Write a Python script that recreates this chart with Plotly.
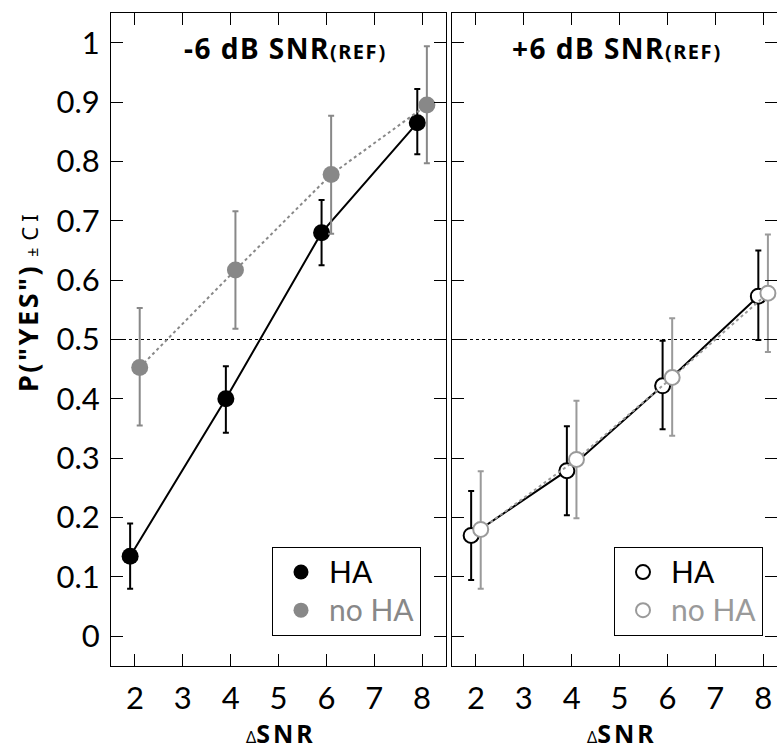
import plotly.graph_objects as go

# ---------------- data ----------------
snr = [2, 4, 6, 8]
x_ticks = [2, 3, 4, 5, 6, 7, 8]
y_ticks = [0, 0.1, 0.2, 0.3, 0.4, 0.5, 0.6, 0.7, 0.8, 0.9, 1]
y_tick_labels = ["0", "0.1", "0.2", "0.3", "0.4", "0.5", "0.6", "0.7", "0.8", "0.9", "1"]

# -6 dB SNR(REF) panel
m6_ha = [0.135, 0.400, 0.680, 0.865]
m6_ha_lo = [0.080, 0.343, 0.625, 0.812]
m6_ha_hi = [0.190, 0.455, 0.735, 0.922]
m6_noha = [0.453, 0.617, 0.778, 0.895]
m6_noha_lo = [0.355, 0.518, 0.678, 0.797]
m6_noha_hi = [0.553, 0.716, 0.877, 0.994]

# +6 dB SNR(REF) panel
p6_ha = [0.170, 0.279, 0.422, 0.573]
p6_ha_lo = [0.095, 0.204, 0.349, 0.499]
p6_ha_hi = [0.245, 0.354, 0.498, 0.650]
p6_noha = [0.180, 0.298, 0.436, 0.578]
p6_noha_lo = [0.080, 0.199, 0.338, 0.479]
p6_noha_hi = [0.278, 0.397, 0.536, 0.677]

ref_line = 0.5
titles = ["-6 dB SNR", "+6 dB SNR"]
series_names = ["HA", "no HA"]

FONT = "Lato"
TFONT = "Noto Sans"
GRAY = "#888888"
GRAY_OPEN = "#9a9a9a"

W, H = 777, 751
ML, MR, MT, MB = 111, 0, 13, 85
PW = W - ML - MR
PH = H - MT - MB


def px_x(p):
    return (p - ML) / PW


def px_y(p):
    return (H - MB - p) / PH


fig = go.Figure()


def err(vals, lo, hi):
    return dict(type="data", symmetric=False,
                array=[h - v for v, h in zip(vals, hi)],
                arrayminus=[v - l for v, l in zip(vals, lo)])


def add_series(xa, ya, vals, lo, hi, offset, color, dash, filled):
    xs = [v + offset for v in snr]
    ey = err(vals, lo, hi)
    ey.update(color=color, thickness=2, width=3)
    if filled:
        marker = dict(size=17, color=color, line=dict(width=0))
    else:
        marker = dict(size=15, color="white", line=dict(width=2, color=color))
    fig.add_trace(go.Scatter(
        x=xs, y=vals, mode="lines+markers", xaxis=xa, yaxis=ya,
        line=dict(color=color, width=2, dash=dash),
        marker=marker, error_y=ey, showlegend=False, hoverinfo="skip"))


# left panel
add_series("x", "y", m6_ha, m6_ha_lo, m6_ha_hi, -0.1, "black", "solid", True)
add_series("x", "y", m6_noha, m6_noha_lo, m6_noha_hi, 0.1, GRAY, "dot", True)
# right panel
add_series("x2", "y2", p6_ha, p6_ha_lo, p6_ha_hi, -0.1, "black", "solid", False)
add_series("x2", "y2", p6_noha, p6_noha_lo, p6_noha_hi, 0.1, GRAY_OPEN, "dot", False)

LEG_TXT = "<span style='font-size:30px'>{}</span>"

# legend-only traces
fig.add_trace(go.Scatter(x=[None], y=[None], mode="markers", xaxis="x", yaxis="y",
                         marker=dict(size=15, color="black"),
                         name=LEG_TXT.format(series_names[0]), legend="legend"))
fig.add_trace(go.Scatter(x=[None], y=[None], mode="markers", xaxis="x", yaxis="y",
                         marker=dict(size=15, color=GRAY),
                         name=f"<span style='color:{GRAY};font-size:30px'>{series_names[1]}</span>",
                         legend="legend"))
fig.add_trace(go.Scatter(x=[None], y=[None], mode="markers", xaxis="x2", yaxis="y2",
                         marker=dict(size=14, color="white", line=dict(width=2, color="black")),
                         name=LEG_TXT.format(series_names[0]), legend="legend2"))
fig.add_trace(go.Scatter(x=[None], y=[None], mode="markers", xaxis="x2", yaxis="y2",
                         marker=dict(size=14, color="white", line=dict(width=2, color=GRAY_OPEN)),
                         name=f"<span style='color:{GRAY_OPEN};font-size:30px'>{series_names[1]}</span>",
                         legend="legend2"))

axis_common = dict(showline=True, linecolor="black", linewidth=1, ticks="inside",
                   ticklen=12, tickwidth=1, tickcolor="black", showgrid=False,
                   zeroline=False, tickfont=dict(family=FONT, size=31, color="black"))

left_dom = [0, px_x(446)]
right_dom = [px_x(452), 1]

leg_common = dict(xanchor="right", yanchor="bottom", bordercolor="black", borderwidth=1,
                  bgcolor="white", font=dict(family=FONT, size=27, color="black"),
                  itemclick=False, itemwidth=46)

fig.update_layout(
    width=W, height=H,
    margin=dict(l=ML, r=MR, t=MT, b=MB),
    paper_bgcolor="white", plot_bgcolor="white",
    font=dict(family=FONT, size=30, color="black"),
    xaxis=dict(domain=left_dom, range=[1.5, 8.5], tickvals=x_ticks, mirror="ticks",
               anchor="y", ticklabelstandoff=5, **axis_common),
    yaxis=dict(domain=[0, 1], range=[-0.05, 1.05], tickvals=y_ticks, ticktext=y_tick_labels,
               mirror="ticks", anchor="x", ticklabelstandoff=4, **axis_common),
    xaxis2=dict(domain=right_dom, range=[1.5, 8.29], tickvals=x_ticks, mirror="ticks",
                anchor="y2", ticklabelstandoff=5, **axis_common),
    yaxis2=dict(domain=[0, 1], range=[-0.05, 1.05], tickvals=y_ticks, mirror=False,
                anchor="x2", showticklabels=False, **axis_common),
    yaxis3=dict(range=[-0.05, 1.05], tickvals=y_ticks, overlaying="y2", side="right",
                anchor="x2", showticklabels=False, ticks="inside", ticklen=12,
                tickwidth=1, tickcolor="black", showline=False, showgrid=False, zeroline=False),
    legend=dict(x=px_x(421), y=px_y(636), **leg_common),
    legend2=dict(x=px_x(763), y=px_y(636), **leg_common),
    showlegend=True,
)

# dummy trace to activate yaxis3
fig.add_trace(go.Scatter(x=[None], y=[None], xaxis="x2", yaxis="y3", showlegend=False))

# reference line at 0.5
for xr, yr in (("x domain", "y"), ("x2 domain", "y2")):
    fig.add_shape(type="line", xref=xr, yref=yr, x0=0, x1=1, y0=ref_line, y1=ref_line,
                  line=dict(color="black", width=1, dash="dot"), layer="below")

SP = "letter-spacing:1.5px"

# panel titles
for t, cx in zip(titles, [285, 617]):
    fig.add_annotation(xref="paper", yref="paper", x=px_x(cx), y=px_y(48),
                       text=f"<b><span style='{SP}'>{t}</span></b>"
                            f"<b><span style='font-size:20px;{SP}'>(REF)</span></b>",
                       showarrow=False, xanchor="center", yanchor="middle",
                       font=dict(family=TFONT, size=28, color="black"))

# x titles
for cx in [281, 622]:
    fig.add_annotation(xref="paper", yref="paper", x=px_x(cx), y=px_y(733.5),
                       text=f"<span style='font-size:16px'>Δ</span>"
                            f"<b><span style='letter-spacing:3px'>SNR</span></b>",
                       showarrow=False, xanchor="center", yanchor="middle",
                       font=dict(family=TFONT, size=25, color="black"))

# y title
fig.add_annotation(xref="paper", yref="paper", x=px_x(27), y=px_y(301),
                   text=f"<b><span style='letter-spacing:2.5px'>P(\"YES\")</span></b> "
                        f"<span style='font-size:16px'>±</span> "
                        f"<span style='font-size:22px;letter-spacing:5px'>CI</span>",
                   textangle=-90, showarrow=False, xanchor="center", yanchor="middle",
                   font=dict(family=TFONT, size=27, color="black"))

fig.write_html("out.html")
